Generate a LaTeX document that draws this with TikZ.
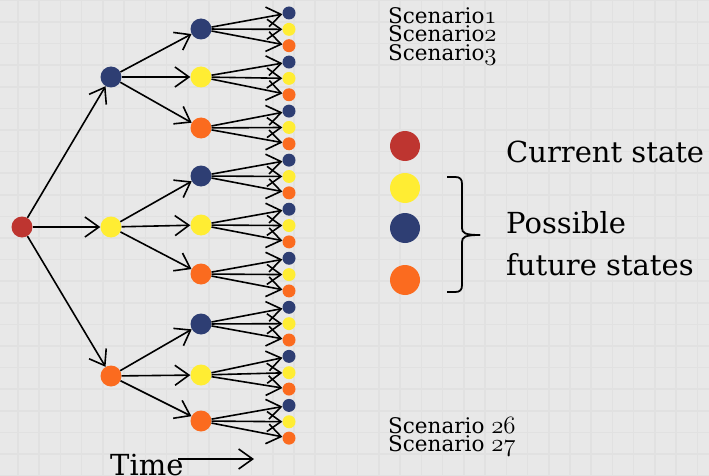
\documentclass[tikz,border=0pt]{standalone}
\usepackage{fontspec}
\setmainfont{DejaVu Serif}
\usetikzlibrary{arrows.meta}
\definecolor{bgcol}{HTML}{E8E8E8}
\definecolor{gridcol}{HTML}{E1E1E1}
\definecolor{redst}{HTML}{BE3530}
\definecolor{yellowst}{HTML}{FFED33}
\definecolor{navyst}{HTML}{2E3E73}
\definecolor{orangest}{HTML}{FB6B1F}
\newcommand{\osnum}[1]{{\fontsize{28}{28}\usefont{OML}{lmm}{m}{it}#1}}
\tikzset{
  bigdot/.style={circle, inner sep=0pt, minimum size=21pt, draw=none},
  smalldot/.style={circle, inner sep=0pt, minimum size=13pt, draw=none},
  legdot/.style={circle, inner sep=0pt, minimum size=30pt, draw=none},
  arr/.style={-{Straight Barb[length=14pt,width=20pt,line width=1.6pt]}, line width=1.6pt, black},
  scen/.style={anchor=base west, inner sep=0pt, font=\fontsize{21.5}{21.5}\selectfont},
  legtxt/.style={anchor=base west, inner sep=0pt, font=\fontsize{29}{29}\selectfont},
}
\begin{document}
\begin{tikzpicture}[x=1pt,y=-1pt]
\useasboundingbox (0,0) rectangle (709,476);
\fill[bgcol] (0,0) rectangle (709,476);
% grid
\foreach \k in {0,...,32} {
  \draw[gridcol, line width=1.5pt] ({18+21.23*\k},0) -- ({18+21.23*\k},476);
}
\foreach \k in {0,...,22} {
  \draw[gridcol, line width=1.5pt] (0,{0.4+21.6*\k}) -- (709,{0.4+21.6*\k});
}
% root
\node[bigdot, fill=redst] (r) at (22,227) {};
% level 1
\node[bigdot, fill=navyst] (a1) at (111,77) {};
\node[bigdot, fill=yellowst] (a2) at (111,227) {};
\node[bigdot, fill=orangest] (a3) at (111,376) {};
% level 2
\node[bigdot, fill=navyst]   (b1) at (201,29) {};
\node[bigdot, fill=yellowst] (b2) at (201,77) {};
\node[bigdot, fill=orangest] (b3) at (201,128) {};
\node[bigdot, fill=navyst]   (b4) at (201,176) {};
\node[bigdot, fill=yellowst] (b5) at (201,225) {};
\node[bigdot, fill=orangest] (b6) at (201,274) {};
\node[bigdot, fill=navyst]   (b7) at (201,324) {};
\node[bigdot, fill=yellowst] (b8) at (201,375) {};
\node[bigdot, fill=orangest] (b9) at (201,421) {};
% leaves
\foreach \i in {1,...,9} {
  \pgfmathtruncatemacro{\na}{3*\i-2}
  \pgfmathtruncatemacro{\nb}{3*\i-1}
  \pgfmathtruncatemacro{\nc}{3*\i}
  \node[smalldot, fill=navyst]   (c\na) at (289,{13+16.35*(\na-1)}) {};
  \node[smalldot, fill=yellowst] (c\nb) at (289,{13+16.35*(\nb-1)}) {};
  \node[smalldot, fill=orangest] (c\nc) at (289,{13+16.35*(\nc-1)}) {};
}
% connectors
\foreach \t in {a1,a2,a3} { \draw[arr] (r) -- (\t); }
\foreach \t in {b1,b2,b3} { \draw[arr] (a1) -- (\t); }
\foreach \t in {b4,b5,b6} { \draw[arr] (a2) -- (\t); }
\foreach \t in {b7,b8,b9} { \draw[arr] (a3) -- (\t); }
\foreach \i in {1,...,9} {
  \pgfmathtruncatemacro{\na}{3*\i-2}
  \pgfmathtruncatemacro{\nb}{3*\i-1}
  \pgfmathtruncatemacro{\nc}{3*\i}
  \draw[arr] (b\i) -- (c\na);
  \draw[arr] (b\i) -- (c\nb);
  \draw[arr] (b\i) -- (c\nc);
}
% scenario labels
\node[scen] (s1) at (388,24) {Scenario\osnum{1}};
\node[scen] (s2) at (388,42) {Scenario\osnum{2}};
\node[scen] (s3) at (388,61) {Scenario\osnum{3}};
\node[scen] (s26) at (388,433) {Scenario \osnum{26}};
\node[scen] (s27) at (388,451) {Scenario \osnum{27}};
% time
\node[legtxt] (time) at (110,475) {Time};
\coordinate (ts) at (178,459);
\coordinate (te) at (254,459);
\draw[arr] (ts) -- (te);
% legend
\node[legdot, fill=redst]    (lr) at (405,146) {};
\node[legdot, fill=yellowst] (ly) at (405,188) {};
\node[legdot, fill=navyst]   (ln) at (405,228) {};
\node[legdot, fill=orangest] (lo) at (405,280) {};
\node[legtxt] (cur) at (506,162) {Current state};
\node[legtxt] (pos) at (506,233) {Possible};
\node[legtxt] (fut) at (506,275) {future states};
\draw[line width=1.8pt, black] (447,177) -- (455,177) .. controls (460,177) and (462,179) .. (462,184)
  -- (462,228) .. controls (462,233) and (465,235) .. (480,235);
\draw[line width=1.8pt, black] (480,235) .. controls (465,235) and (462,237) .. (462,242)
  -- (462,285) .. controls (462,290) and (460,292) .. (455,292) -- (447,292);
\end{tikzpicture}
\end{document}
